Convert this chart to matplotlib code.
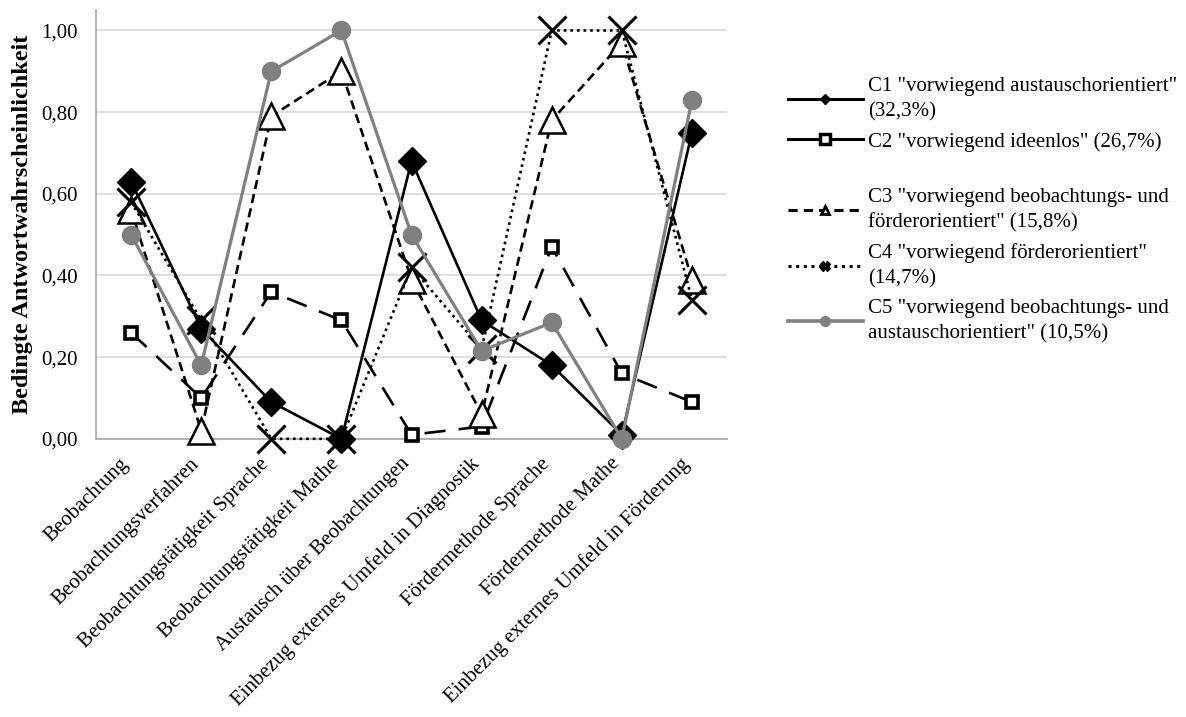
import matplotlib.pyplot as plt
import matplotlib.transforms as mtransforms
from matplotlib.lines import Line2D
import numpy as np

plt.rcParams["font.family"] = ["Liberation Serif", "DejaVu Serif"]

# ─────────────────────────────────────────────
# Daten
# ─────────────────────────────────────────────
kategorien = [
    "Beobachtung",
    "Beobachtungsverfahren",
    "Beobachtungstätigkeit Sprache",
    "Beobachtungstätigkeit Mathe",
    "Austausch über Beobachtungen",
    "Einbezug externes Umfeld in Diagnostik",
    "Fördermethode Sprache",
    "Fördermethode Mathe",
    "Einbezug externes Umfeld in Förderung",
]

c1 = [0.63, 0.27, 0.09, 0.00, 0.68, 0.29, 0.18, 0.01, 0.75]
c2 = [0.26, 0.10, 0.36, 0.29, 0.01, 0.03, 0.47, 0.16, 0.09]
c3 = [0.56, 0.02, 0.79, 0.90, 0.39, 0.06, 0.78, 0.97, 0.39]
c4 = [0.58, 0.29, 0.00, 0.00, 0.42, 0.22, 1.00, 1.00, 0.34]
c5 = [0.50, 0.18, 0.90, 1.00, 0.50, 0.215, 0.285, 0.00, 0.83]

labels = [
    'C1 "vorwiegend austauschorientiert"\n(32,3%)',
    'C2 "vorwiegend ideenlos" (26,7%)',
    'C3 "vorwiegend beobachtungs- und\nförderorientiert" (15,8%)',
    'C4 "vorwiegend förderorientiert"\n(14,7%)',
    'C5 "vorwiegend beobachtungs- und\naustauschorientiert" (10,5%)',
]

GRAU = "#808080"
FS = 15

fig = plt.figure(figsize=(11.86, 7.17), dpi=100)
ax = fig.add_axes([0.081, 0.388, 0.532, 0.598])
x = np.arange(len(kategorien))

lw = 1.9
ax.plot(x, c2, color="black", lw=lw, dashes=(8, 5), marker="s", ms=9,
        mfc="white", mec="black", mew=2.6, zorder=3, clip_on=False)
ax.plot(x, c3, color="black", lw=lw, dashes=(3.5, 2), marker="^", ms=19,
        mfc="white", mec="black", mew=1.8, zorder=4, clip_on=False)
ax.plot(x, c4, color="black", lw=lw, dashes=(1, 1.5), marker="x", ms=20,
        mew=2.2, zorder=5, clip_on=False)
ax.plot(x, c1, color="black", lw=lw, marker="D", ms=14, mfc="black",
        mec="black", zorder=6, clip_on=False)
ax.plot(x, c5, color=GRAU, lw=2.3, marker="o", ms=13, mfc=GRAU, mec=GRAU,
        zorder=7, clip_on=False)

ax.set_xlim(-0.5, len(kategorien) - 0.5)
ax.set_ylim(0, 1.05)
yt = np.arange(0, 1.01, 0.2)
ax.set_yticks(yt)
ax.set_yticklabels([f"{v:.2f}".replace(".", ",") for v in yt], fontsize=FS)
ax.set_xticks(x)
ax.set_xticklabels(kategorien, rotation=45, ha="right", va="center",
                   rotation_mode="anchor", fontsize=FS)
ax.tick_params(axis="y", length=0, pad=13)
ax.tick_params(axis="x", length=0, pad=16)
# Etiketten leicht nach links rücken
verschiebung = mtransforms.ScaledTranslation(-5 / 100, 0, fig.dpi_scale_trans)
for lab in ax.get_xticklabels():
    lab.set_transform(lab.get_transform() + verschiebung)

ax.grid(axis="y", color="#d9d9d9", lw=1.2)
ax.set_axisbelow(True)
for s in ["top", "right"]:
    ax.spines[s].set_visible(False)
for s in ["left", "bottom"]:
    ax.spines[s].set_color("#a6a6a6")
    ax.spines[s].set_linewidth(1.2)

ax.set_ylabel("Bedingte Antwortwahrscheinlichkeit", fontsize=17.5,
              fontweight="bold", labelpad=6)

# Legende in zwei Blöcken (Lücke zwischen C2 und C3 wie im Original);
# C2 im Legendenfeld durchgezogen
h_oben = [
    Line2D([], [], color="black", lw=2.2, marker="D", ms=5, mfc="black"),
    Line2D([], [], color="black", lw=2.2, marker="s", ms=7, mfc="white", mew=2.5),
]
h_unten = [
    Line2D([], [], color="black", lw=2.2, dashes=(3, 2), marker="^", ms=6,
           mfc="white", mew=2),
    Line2D([], [], color="black", lw=2.2, dashes=(1, 1.5), marker="X", ms=7),
    Line2D([], [], color=GRAU, lw=2.6, marker="o", ms=7, mfc=GRAU, mec=GRAU),
]
leg_kw = dict(loc="upper left", frameon=False, fontsize=FS, handlelength=3.6,
              handletextpad=0.25, labelspacing=0.5, borderaxespad=0,
              borderpad=0)
leg1 = fig.legend(h_oben, labels[:2], bbox_to_anchor=(0.664, 0.893), **leg_kw)
leg2 = fig.legend(h_unten, labels[2:], bbox_to_anchor=(0.664, 0.738), **leg_kw)
for leg in (leg1, leg2):
    for t in leg.get_texts():
        t.set_linespacing(1.45)

fig.savefig("out.png", dpi=100)
